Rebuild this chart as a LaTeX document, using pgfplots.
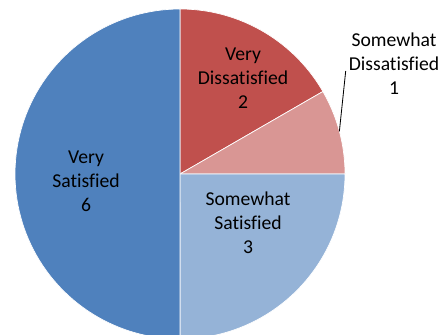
\documentclass[border=0pt]{standalone}
\usepackage{pgfplots}
\pgfplotsset{compat=1.18}
\usepackage{pgfplotstable}
\usepackage{fontspec}
\setmainfont[Ligatures=NoCommon]{Carlito}

\definecolor{vdis}{HTML}{C0504D}
\definecolor{sdis}{HTML}{D99694}
\definecolor{ssat}{HTML}{95B3D7}
\definecolor{vsat}{HTML}{4F81BD}

% Survey responses, in clockwise order from 12 o'clock
\pgfplotstableread{
value
2
1
3
6
}\survey

\begin{document}
\begin{tikzpicture}[
  slice/.style={draw=white, line width=0.5pt},
  lbl/.style={align=center, font=\fontsize{14.2}{17.3}\selectfont, text=black},
]
\pgfplotstablegetelem{0}{value}\of\survey \let\vA\pgfplotsretval
\pgfplotstablegetelem{1}{value}\of\survey \let\vB\pgfplotsretval
\pgfplotstablegetelem{2}{value}\of\survey \let\vC\pgfplotsretval
\pgfplotstablegetelem{3}{value}\of\survey \let\vD\pgfplotsretval
\pgfmathsetmacro\total{\vA+\vB+\vC+\vD}
% slice boundary angles (degrees), going clockwise from the top
\pgfmathsetmacro\aA{90}
\pgfmathsetmacro\aB{\aA-360*\vA/\total}
\pgfmathsetmacro\aC{\aB-360*\vB/\total}
\pgfmathsetmacro\aD{\aC-360*\vC/\total}
\pgfmathsetmacro\aE{\aD-360*\vD/\total}
\pgfmathsetmacro\aMid{(\aB+\aC)/2}
\def\cx{180}\def\cy{161}\def\R{165}
\begin{axis}[
  scale only axis, width=4.46in, height=3.35in,
  xmin=0, xmax=446, ymin=0, ymax=335,
  axis line style={draw=none}, xtick=\empty, ytick=\empty,
  clip=true,
  every axis plot/.append style={samples=90, variable=\t},
]
\addplot[slice, fill=vdis, domain=\aB:\aA]
  ({\cx+\R*cos(t)}, {\cy+\R*sin(t)}) -- (axis cs:\cx,\cy) -- cycle;
\addplot[slice, fill=sdis, domain=\aC:\aB]
  ({\cx+\R*cos(t)}, {\cy+\R*sin(t)}) -- (axis cs:\cx,\cy) -- cycle;
\addplot[slice, fill=ssat, domain=\aD:\aC]
  ({\cx+\R*cos(t)}, {\cy+\R*sin(t)}) -- (axis cs:\cx,\cy) -- cycle;
\addplot[slice, fill=vsat, domain=\aE:\aD]
  ({\cx+\R*cos(t)}, {\cy+\R*sin(t)}) -- (axis cs:\cx,\cy) -- cycle;

\node[lbl] at (axis cs:243,257) {Very\\Dissatisfied\\\vA};
\node[lbl] at (axis cs:394,271) {Somewhat\\Dissatisfied\\\vB};
\node[lbl] at (axis cs:248,112) {Somewhat\\Satisfied\\\vC};
\node[lbl] at (axis cs:86,154) {Very\\Satisfied\\\vD};
\draw[black, line width=0.6pt]
  (axis cs:{\cx+\R*cos(\aMid)},{\cy+\R*sin(\aMid)}) -- (axis cs:345.7,264);
\end{axis}
\end{tikzpicture}
\end{document}
